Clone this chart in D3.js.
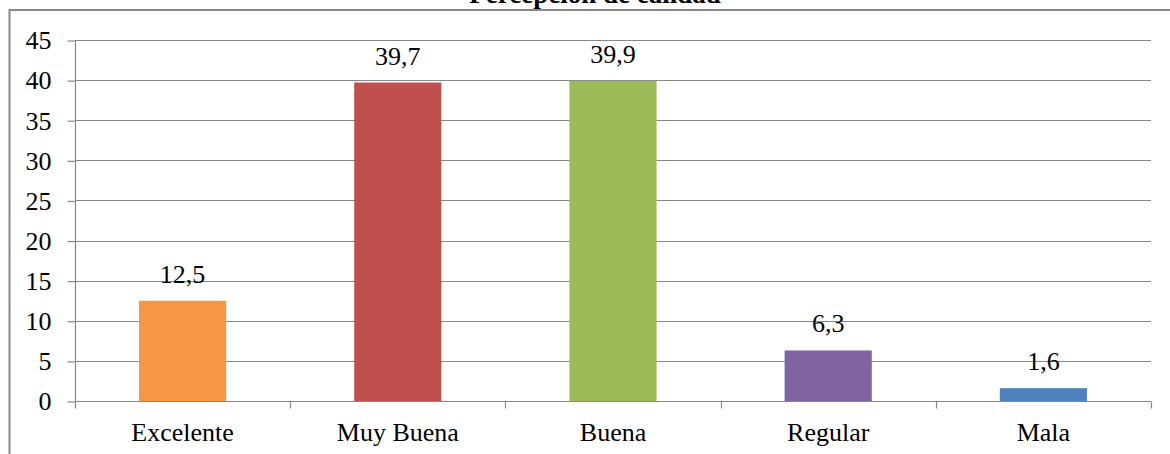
<!DOCTYPE html>
<html lang="es">
<head>
<meta charset="utf-8">
<title>Percepción de calidad</title>
<script src="https://cdn.jsdelivr.net/npm/d3@7"></script>
<style>
  body { margin: 0; background: #fff; }
  svg { display: block; }
  svg text { font-family: "Liberation Serif", "Times New Roman", serif; fill: #000; }
</style>
</head>
<body>
<script>
// data
var categories = ["Excelente", "Muy Buena", "Buena", "Regular", "Mala"];
var values = [12.5, 39.7, 39.9, 6.3, 1.6];
var colors = ["#F79646", "#C0504D", "#9BBB59", "#8064A2", "#4F81BD"];
var yTicks = [0, 5, 10, 15, 20, 25, 30, 35, 40, 45];

var w = 1170, h = 454;
var plotLeft = 75, plotRight = 1151, plotTop = 40, plotBottom = 401;
var fontSize = "26px";

var svg = d3.select("body").append("svg")
  .attr("width", w)
  .attr("height", h);

// outer border (cut off at right/bottom)
svg.append("rect")
  .attr("x", 9.5).attr("y", 10)
  .attr("width", w + 20).attr("height", h + 20)
  .attr("fill", "none")
  .attr("stroke", "#888").attr("stroke-width", 2);

// title (cut off at top like the source)
svg.append("text")
  .attr("x", 595).attr("y", 3)
  .attr("text-anchor", "middle")
  .attr("font-weight", "bold")
  .attr("font-size", "27px")
  .text("Percepción de calidad");

var x = d3.scaleBand().domain(categories).range([plotLeft, plotRight]).paddingInner(0).paddingOuter(0);
var y = d3.scaleLinear().domain([0, 45]).range([plotBottom, plotTop]);
var barW = x.bandwidth() * 0.405;

// gridlines
svg.append("g").selectAll("line")
  .data(yTicks)
  .enter().append("line")
  .attr("x1", plotLeft).attr("x2", plotRight)
  .attr("y1", function(d) { return Math.round(y(d)) + 0.5; })
  .attr("y2", function(d) { return Math.round(y(d)) + 0.5; })
  .attr("stroke", "#888").attr("stroke-width", 1.2);

// y axis
var yAxis = svg.append("g")
  .attr("transform", "translate(" + (plotLeft + 0.5) + ",0.5)")
  .call(d3.axisLeft(y).tickValues(yTicks).tickSize(8).tickPadding(16));
yAxis.attr("font-family", null).attr("font-size", fontSize);
yAxis.selectAll("line, path").attr("stroke", "#888").attr("stroke-width", 1.2);
yAxis.select(".domain").attr("d", "M0," + y(45) + "V" + y(0));

// x axis
var xAxis = svg.append("g")
  .attr("transform", "translate(0," + (Math.round(plotBottom) + 0.5) + ")")
  .call(d3.axisBottom(x).tickSize(0).tickPadding(21));
xAxis.attr("font-family", null).attr("font-size", fontSize);
xAxis.select(".domain").attr("stroke", "#888").attr("stroke-width", 1.2)
  .attr("d", "M" + plotLeft + ",0H" + plotRight);

// category separator ticks
var bounds = categories.map(function(c) { return x(c); }).concat([plotRight]);
xAxis.append("g").selectAll("line")
  .data(bounds)
  .enter().append("line")
  .attr("x1", function(d) { return Math.round(d) + 0.5; })
  .attr("x2", function(d) { return Math.round(d) + 0.5; })
  .attr("y1", 0).attr("y2", 7)
  .attr("stroke", "#888").attr("stroke-width", 1.2);

// bars
svg.append("g").selectAll("rect")
  .data(values)
  .enter().append("rect")
  .attr("x", function(d, i) { return x(categories[i]) + (x.bandwidth() - barW) / 2; })
  .attr("y", function(d) { return y(d); })
  .attr("width", barW)
  .attr("height", function(d) { return y(0) - y(d); })
  .attr("fill", function(d, i) { return colors[i]; });

// data labels
svg.append("g").selectAll("text")
  .data(values)
  .enter().append("text")
  .attr("x", function(d, i) { return x(categories[i]) + x.bandwidth() / 2; })
  .attr("y", function(d) { return y(d) - 18; })
  .attr("text-anchor", "middle")
  .attr("font-size", fontSize)
  .text(function(d) { return String(d).replace(".", ","); });
</script>
</body>
</html>
